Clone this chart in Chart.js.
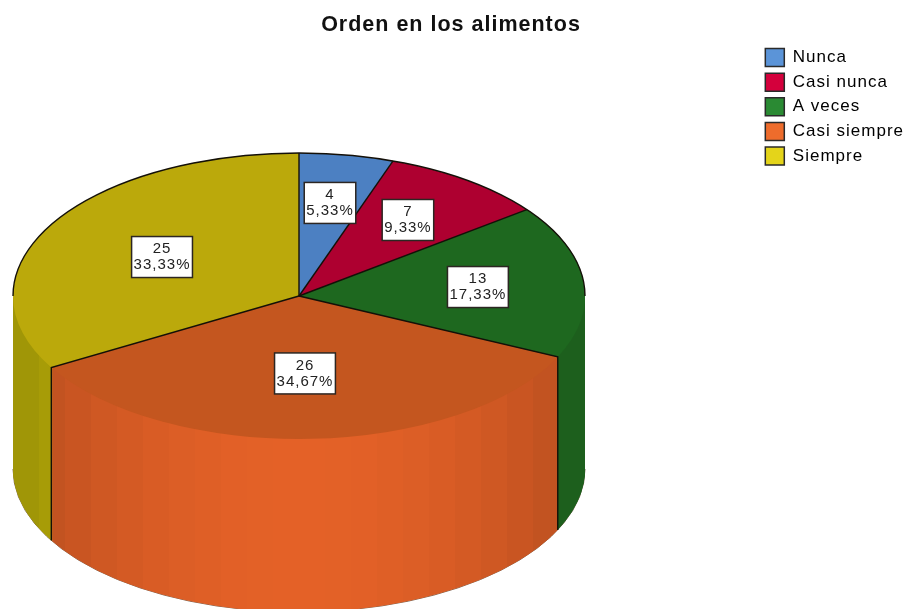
<!DOCTYPE html>
<html>
<head>
<meta charset="utf-8">
<title>Orden en los alimentos</title>
<script src="https://cdn.jsdelivr.net/npm/chart.js@4"></script>
<style>
    html, body { margin: 0; background: #fff; }
    canvas { display: block; filter: blur(0.35px); }
</style>
</head>
<body>
<canvas id="chart1" width="906" height="609"></canvas>
<script>
const categories = ['Nunca', 'Casi nunca', 'A veces', 'Casi siempre', 'Siempre'];
const values = [4, 7, 13, 26, 25];
const chartTitle = 'Orden en los alimentos';

const topColors = ['#4c80c2', '#ae0030', '#1e681f', '#c4561f', '#bba90b'];
const sideColors = ['#4c80c2', '#ae0030', '#237424', '#e46127', '#c4b708'];
const legendColors = ['#5b94d8', '#d4003c', '#2a8a33', '#ee6c2c', '#e4d41a'];

// how far along the ellipse each label sits, [across, down]
const labelReach = [[0.65, 0.66], [0.648, 0.657], [0.629, 0.6], [0.5, 0.542], [0.553, 0.545]];

// where the flat pie is pushed to on the page
const PIE = { cx: 299, cy: 296, rx: 286, ry: 143, depth: 173 };

function sideGradient(ctx, arc, color) {
    const r = arc.outerRadius;
    const grad = ctx.createLinearGradient(arc.x - r, 0, arc.x + r, 0);
    const bands = 22;
    const base = [1, 3, 5].map(i => parseInt(color.slice(i, i + 2), 16));
    for (let i = 0; i < bands; i++) {
        const t = Math.abs((i + 0.5) / bands * 2 - 1);
        const k = 1 - 0.2 * t * t;
        const c = `rgb(${base.map(v => Math.round(v * k)).join(',')})`;
        grad.addColorStop(i / bands, c);
        grad.addColorStop((i + 1) / bands, c);
    }
    return grad;
}

function toPie(ctx, arc, dy) {
    const r = arc.outerRadius;
    ctx.translate(PIE.cx, PIE.cy + dy);
    ctx.scale(PIE.rx / r, PIE.ry / r);
    ctx.translate(-arc.x, -arc.y);
}

function rimPoint(angle, dy) {
    return [PIE.cx + PIE.rx * Math.cos(angle), PIE.cy + dy + PIE.ry * Math.sin(angle)];
}

const pie3d = {
    id: 'pie3d',
    beforeUpdate(chart) {
        chart.ctx.letterSpacing = '1px';
    },
    afterLayout(chart) {
        // legend sits level with the top of the title gap, not the canvas
        chart.legend.top += 42;
        chart.legend.left += 8;
        chart.titleBlock.left -= 2;
        chart.titleBlock.right -= 2;
    },
    beforeDatasetsDraw(chart) {
        const ctx = chart.ctx;
        const arcs = chart.getDatasetMeta(0).data;

        // bottom edge
        ctx.save();
        ctx.strokeStyle = 'rgba(70,35,10,0.7)';
        ctx.lineWidth = 1;
        ctx.beginPath();
        ctx.ellipse(PIE.cx, PIE.cy + PIE.depth, PIE.rx, PIE.ry, 0, 0, Math.PI);
        ctx.stroke();
        ctx.restore();

        // the wall: same arcs, repeated downwards
        const fills = arcs.map((arc, i) => sideGradient(ctx, arc, sideColors[i]));
        for (let dy = PIE.depth; dy > 0; dy--) {
            arcs.forEach((arc, i) => {
                const saved = arc.options;
                arc.options = Object.create(saved, { backgroundColor: { value: fills[i] } });
                ctx.save();
                toPie(ctx, arc, dy);
                arc.draw(ctx);
                ctx.restore();
                arc.options = saved;
            });
        }

        ctx.save();
        toPie(ctx, arcs[0], 0);
    },
    afterDatasetsDraw(chart) {
        const ctx = chart.ctx;
        const arcs = chart.getDatasetMeta(0).data;
        ctx.restore();

        ctx.save();
        ctx.strokeStyle = '#141008';
        ctx.lineWidth = 1.4;

        // back half of the rim
        ctx.beginPath();
        ctx.ellipse(PIE.cx, PIE.cy, PIE.rx, PIE.ry, 0, Math.PI, Math.PI * 2);
        ctx.stroke();

        // spokes, and the two corners that go down the wall
        arcs.forEach(arc => {
            const [x, y] = rimPoint(arc.startAngle, 0);
            ctx.beginPath();
            ctx.moveTo(PIE.cx, PIE.cy);
            ctx.lineTo(x, y);
            if (Math.sin(arc.startAngle) > 0) {
                ctx.lineTo(x, y + PIE.depth);
            }
            ctx.stroke();
        });
        ctx.restore();

        // value labels
        const total = values.reduce((a, b) => a + b, 0);
        ctx.save();
        ctx.font = '15px "Liberation Sans"';
        ctx.textAlign = 'center';
        ctx.textBaseline = 'middle';
        arcs.forEach((arc, i) => {
            const mid = (arc.startAngle + arc.endAngle) / 2;
            const x = PIE.cx + PIE.rx * labelReach[i][0] * Math.cos(mid);
            const y = PIE.cy + PIE.ry * labelReach[i][1] * Math.sin(mid);
            const line1 = String(values[i]);
            const line2 = (values[i] / total * 100).toFixed(2).replace('.', ',') + '%';
            const w = ctx.measureText(line2).width + 4;
            const h = 41;
            ctx.fillStyle = '#fff';
            ctx.strokeStyle = '#2c2622';
            ctx.lineWidth = 1.5;
            ctx.fillRect(x - w / 2, y - h / 2, w, h);
            ctx.strokeRect(x - w / 2, y - h / 2, w, h);
            ctx.fillStyle = '#222';
            ctx.fillText(line1, x, y - 8);
            ctx.fillText(line2, x, y + 8);
        });
        ctx.restore();
    }
};

const chart1 = new Chart(document.querySelector('#chart1'), {
    type: 'pie',
    data: {
        labels: categories,
        datasets: [{
            data: values,
            backgroundColor: topColors,
            borderWidth: 0,
            clip: false,
        }]
    },
    options: {
        responsive: false,
        animation: false,
        plugins: {
            title: {
                display: true,
                text: chartTitle,
                color: '#111',
                font: { family: '"Liberation Sans"', size: 21.5, weight: 'bold' },
                padding: { top: 12, bottom: 10 },
            },
            tooltip: { enabled: false },
            legend: {
                position: 'right',
                align: 'start',
                labels: {
                    color: '#222',
                    font: { family: '"Liberation Sans"', size: 17 },
                    boxWidth: 19,
                    boxHeight: 18,
                    padding: 6.6,
                    generateLabels: () => categories.map((name, i) => ({
                        text: name,
                        fillStyle: legendColors[i],
                        strokeStyle: '#2a2a2a',
                        lineWidth: 1.5,
                        index: i,
                    })),
                }
            }
        }
    },
    plugins: [pie3d],
});
</script>
</body>
</html>
